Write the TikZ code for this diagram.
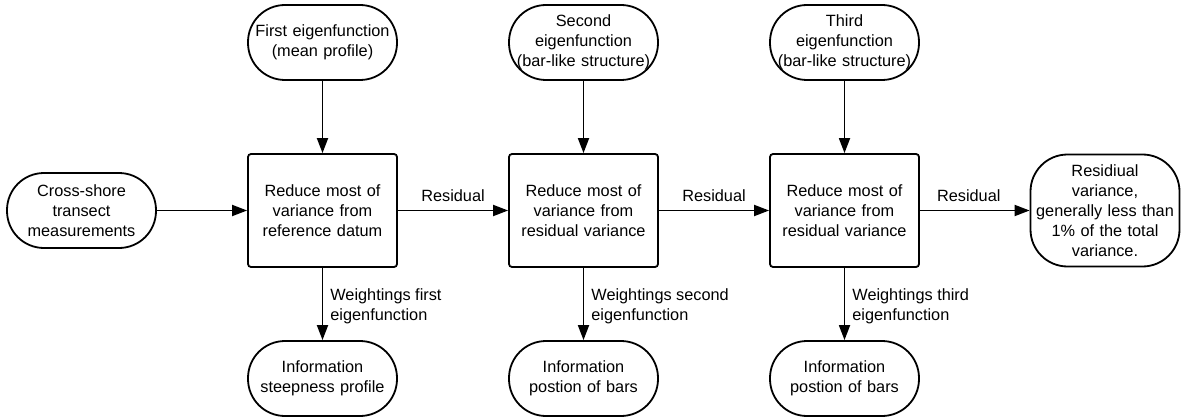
\documentclass[tikz,border=0pt]{standalone}
\usepackage{fontspec}
\setmainfont{Liberation Sans}
\usetikzlibrary{arrows.meta}
\begin{document}
\begin{tikzpicture}[x=1pt,y=-1pt,
  every node/.style={font=\fontsize{16.3pt}{20pt}\selectfont, align=center, inner sep=0pt},
  term/.style={draw, line width=1.8pt, rounded corners=37pt, minimum width=149pt, minimum height=75pt, text width=149pt},
  proc/.style={draw, line width=1.8pt, rounded corners=3pt, minimum width=149pt, minimum height=113pt, text width=140pt},
  conn/.style={line width=1.8pt, -{Triangle[length=15pt,width=11pt]}},
  lbl/.style={align=left, anchor=west}
]
\useasboundingbox (0,0) rectangle (1181,417);
\node[term] (t1) at (322.5,42.5) {First eigenfunction\\(mean profile)};
\node[term] (t2) at (583.5,42.5) {Second\\eigenfunction\\(bar-like structure)};
\node[term] (t3) at (844.5,42.5) {Third\\eigenfunction\\(bar-like structure)};
\node[proc] (b1) at (322.5,210.5) {Reduce most of\\variance from\\reference datum};
\node[proc] (b2) at (583.5,210.5) {Reduce most of\\variance from\\residual variance};
\node[proc] (b3) at (844.5,210.5) {Reduce most of\\variance from\\residual variance};
\node[term] (in) at (81.5,210.5) {Cross-shore\\transect\\measurements};
\node[term, minimum height=112pt] (out) at (1105,210.5) {Residiual\\variance,\\generally less than\\1\% of the total\\variance.};
\node[term] (o1) at (322.5,378.5) {Information\\steepness profile};
\node[term] (o2) at (583.5,378.5) {Information\\postion of bars};
\node[term] (o3) at (844.5,378.5) {Information\\postion of bars};

\draw[conn] (t1) -- (b1);
\draw[conn] (t2) -- (b2);
\draw[conn] (t3) -- (b3);
\draw[conn] (in) -- (b1);
\draw[conn] (b1) -- node[above=8pt] (r1) {Residual} (b2);
\draw[conn] (b2) -- node[above=8pt] (r2) {Residual} (b3);
\draw[conn] (b3) -- node[above=8pt, xshift=-6pt] (r3) {Residual} (out);
\draw[conn] (b1) -- node[lbl, xshift=7pt, yshift=-2pt] (w1) {Weightings first\\eigenfunction} (o1);
\draw[conn] (b2) -- node[lbl, xshift=7pt, yshift=-2pt] (w2) {Weightings second\\eigenfunction} (o2);
\draw[conn] (b3) -- node[lbl, xshift=7pt, yshift=-2pt] (w3) {Weightings third\\eigenfunction} (o3);
\end{tikzpicture}
\end{document}
